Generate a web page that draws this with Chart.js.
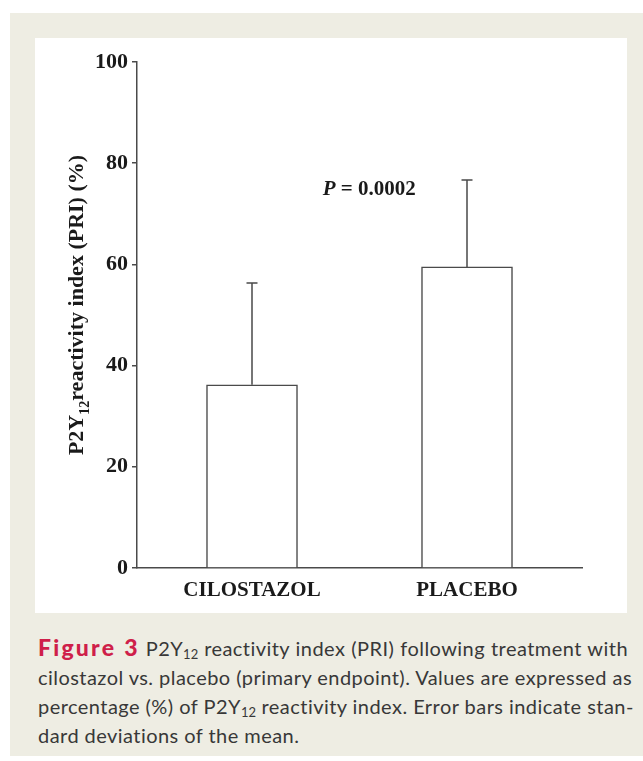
<!DOCTYPE html>
<html>
<head>
<meta charset="utf-8">
<script src="https://cdn.jsdelivr.net/npm/chart.js@4.4.1/dist/chart.umd.min.js"></script>
<style>
  html, body { margin: 0; padding: 0; background: #ffffff; }
  body { width: 643px; height: 761px; position: relative; overflow: hidden; }
  #panel { position: absolute; left: 10px; top: 13px; width: 633px; height: 743px; background: #eeede3; }
  #plot { position: absolute; left: 35px; top: 38px; width: 592px; height: 575px; background: #ffffff; }
  #caption { position: absolute; left: 38px; top: 633px; width: 590px;
    font-family: Lato, "Open Sans", sans-serif; font-size: 20px; line-height: 29px; color: #383838; letter-spacing: 0.45px; }
  #caption .ln { display: block; text-align: justify; text-align-last: justify; white-space: nowrap; }
  #caption .last { text-align-last: left; }
  #caption b { color: #cf1f4a; font-weight: 900; font-size: 23px; letter-spacing: 2.2px; }
  #caption sub { font-size: 13px; vertical-align: -3px; line-height: 0; letter-spacing: 0; }
</style>
</head>
<body>
<div id="panel"></div>
<div id="plot"><canvas id="c" width="592" height="575"></canvas></div>
<div id="caption">
  <span class="ln"><b>Figure 3</b> P2Y<sub>12</sub> reactivity index (PRI) following treatment with</span>
  <span class="ln">cilostazol vs. placebo (primary endpoint). Values are expressed as</span>
  <span class="ln">percentage (%) of P2Y<sub>12</sub> reactivity index. Error bars indicate stan-</span>
  <span class="ln last">dard deviations of the mean.</span>
</div>
<script>
const categories = ['CILOSTAZOL', 'PLACEBO'];
const categoryPositions = [1, 2];
const meanValues = [36.2, 59.5];
const sdValues = [20.1, 17.2];
const yTicks = [0, 20, 40, 60, 80, 100];
const pValueText = 'P = 0.0002';
const pValueAt = { x: 1.545, y: 74.7 };

const AX = '#4a4a4a';
const SERIF = '"Liberation Serif", "Times New Roman", serif';

const errorBars = {
  id: 'errorBars',
  afterDatasetsDraw(chart) {
    const ctx = chart.ctx;
    const y = chart.scales.y;
    const meta = chart.getDatasetMeta(0);
    ctx.save();
    ctx.strokeStyle = AX;
    ctx.lineWidth = 1.5;
    meta.data.forEach((bar, i) => {
      const top = y.getPixelForValue(meanValues[i] + sdValues[i]);
      ctx.beginPath();
      ctx.moveTo(bar.x, bar.y);
      ctx.lineTo(bar.x, top);
      ctx.moveTo(bar.x - 5.5, top);
      ctx.lineTo(bar.x + 5.5, top);
      ctx.stroke();
    });
    const px = chart.scales.x.getPixelForValue(pValueAt.x);
    const py = y.getPixelForValue(pValueAt.y);
    ctx.fillStyle = '#1a1a1a';
    ctx.textBaseline = 'middle';
    const pPart = pValueText.slice(0, 1);
    const rest = pValueText.slice(1);
    ctx.font = 'italic bold 21px ' + SERIF;
    const w1 = ctx.measureText(pPart).width;
    ctx.font = 'bold 21px ' + SERIF;
    const w2 = ctx.measureText(rest).width;
    const sx = px - (w1 + w2) / 2;
    ctx.font = 'italic bold 21px ' + SERIF;
    ctx.textAlign = 'left';
    ctx.fillText(pPart, sx, py);
    ctx.font = 'bold 21px ' + SERIF;
    ctx.fillText(rest, sx + w1, py);
    ctx.restore();
  }
};

const yTitle = {
  id: 'yTitle',
  afterDraw(chart) {
    const ctx = chart.ctx;
    const parts = [
      { t: 'P2Y', size: 22, dy: 0 },
      { t: '12', size: 14, dy: 6 },
      { t: 'reactivity index (PRI) (%)', size: 22, dy: 0 }
    ];
    ctx.save();
    let total = 0;
    parts.forEach(p => { ctx.font = 'bold ' + p.size + 'px ' + SERIF; p.w = ctx.measureText(p.t).width; total += p.w; });
    const cx = 41, cy = 267;
    ctx.translate(cx, cy);
    ctx.rotate(-Math.PI / 2);
    ctx.fillStyle = '#1a1a1a';
    ctx.textBaseline = 'alphabetic';
    ctx.textAlign = 'left';
    let x = -total / 2;
    parts.forEach(p => {
      ctx.font = 'bold ' + p.size + 'px ' + SERIF;
      ctx.fillText(p.t, x, 7 + p.dy);
      x += p.w;
    });
    ctx.restore();
  }
};

new Chart(document.getElementById('c'), {
  type: 'bar',
  data: {
    datasets: [{
      data: categoryPositions.map((x, i) => ({ x: x, y: meanValues[i] })),
      backgroundColor: '#ffffff',
      borderColor: AX,
      borderWidth: 1.5,
      borderSkipped: 'bottom',
      barThickness: 91
    }]
  },
  options: {
    responsive: false,
    animation: false,
    events: [],
    layout: { padding: { top: 24, right: 45, left: 0, bottom: 0 } },
    plugins: { legend: { display: false }, tooltip: { enabled: false } },
    scales: {
      x: {
        type: 'linear',
        offset: false,
        min: 1 - 115 / 215,
        max: 2 + 115 / 215,
        afterBuildTicks(s) { s.ticks = categoryPositions.map(v => ({ value: v })); },
        afterFit(s) { s.height = 45; },
        ticks: {
          callback: (v) => categories[categoryPositions.indexOf(v)] || '',
          font: { family: SERIF, size: 21, weight: 'bold' },
          color: '#1a1a1a',
          padding: 10,
          maxRotation: 0,
          autoSkip: false
        },
        grid: { display: true, offset: false, drawOnChartArea: false, drawTicks: false, color: 'rgba(0,0,0,0)' },
        border: { display: true, color: AX, width: 1.5 }
      },
      y: {
        min: 0,
        max: 100,
        afterBuildTicks(s) { s.ticks = yTicks.map(v => ({ value: v })); },
        afterFit(s) { s.width = 102; },
        ticks: {
          font: { family: SERIF, size: 22, weight: 'bold' },
          color: '#1a1a1a',
          padding: 4
        },
        grid: { display: true, drawOnChartArea: false, drawTicks: true, tickLength: 5, color: AX, lineWidth: 1.5 },
        border: { display: true, color: AX, width: 1.5 }
      }
    }
  },
  plugins: [errorBars, yTitle]
});
</script>
</body>
</html>
